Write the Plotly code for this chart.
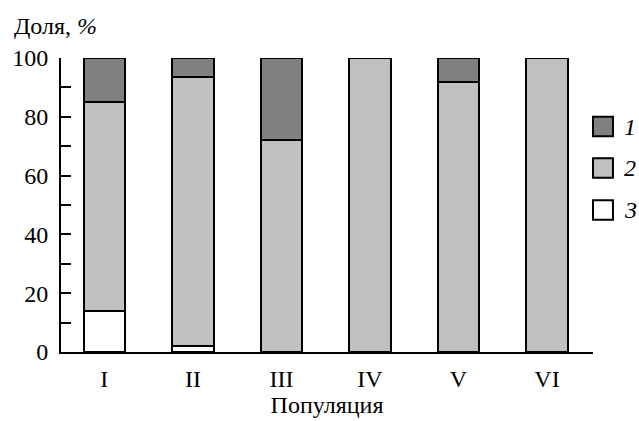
import plotly.graph_objects as go

categories = ["I", "II", "III", "IV", "V", "VI"]
series_3 = [14, 2, 0, 0, 0, 0]
series_2 = [71, 91.5, 72, 100, 92, 100]
series_1 = [15, 6.5, 28, 0, 8, 0]
series_names = ["1", "2", "3"]
colors = {"1": "#808080", "2": "#c0c0c0", "3": "#ffffff"}
y_ticks = [0, 20, 40, 60, 80, 100]

FONT = "Liberation Serif, Times New Roman, serif"
FS = 24
W_PLOT, H_PLOT = 533, 301

fig = go.Figure()
for name, vals in [("3", series_3), ("2", series_2), ("1", series_1)]:
    fig.add_trace(go.Bar(
        x=categories, y=[v if v else None for v in vals], name=name,
        marker=dict(color=colors[name], line=dict(color="black", width=2)),
        width=0.47, showlegend=False,
    ))

# manual legend (larger squares like the reference)
leg_y = [0.767, 0.626, 0.483]
for name, yy in zip(series_names, leg_y):
    fig.add_shape(type="rect", xref="paper", yref="paper",
                  x0=1.0, x1=1.0 + 20 / W_PLOT, y0=yy - 10 / H_PLOT, y1=yy + 10 / H_PLOT,
                  fillcolor=colors[name], line=dict(color="black", width=2))
    fig.add_annotation(xref="paper", yref="paper", x=1.0 + 29 / W_PLOT, y=yy,
                       text="<i>" + name + "</i>", showarrow=False,
                       xanchor="left", yanchor="middle",
                       font=dict(family=FONT, size=FS, color="black"))

fig.add_annotation(xref="paper", yref="paper", x=-49 / W_PLOT, y=1 + 33 / H_PLOT,
                   text="Доля, <i>%</i>", showarrow=False, xanchor="left", yanchor="middle",
                   font=dict(family=FONT, size=FS, color="black"))

fig.update_layout(
    width=639, height=421,
    margin=dict(l=60, r=46, t=58, b=62),
    barmode="stack",
    plot_bgcolor="white", paper_bgcolor="white",
    font=dict(family=FONT, size=FS, color="black"),
    xaxis=dict(
        range=[-0.49, 5.52], showline=True, linecolor="black", linewidth=2,
        ticks="", showgrid=False, zeroline=False, ticklabelstandoff=4,
        title=dict(text="Популяция", standoff=0, font=dict(size=FS)),
    ),
    yaxis=dict(
        range=[0, 100], tickvals=y_ticks, showline=True, linecolor="black", linewidth=2,
        ticks="inside", ticklen=10, tickwidth=2, tickcolor="black",
        minor=dict(dtick=10, ticks="inside", ticklen=10, tickwidth=2, tickcolor="black", showgrid=False),
        showgrid=False, zeroline=False, ticklabelstandoff=6,
    ),
)

fig.write_html("out.html", config={"displayModeBar": False, "staticPlot": True})
with open("out.html", encoding="utf-8") as f:
    html = f.read()
html = html.replace("<body>", '<body style="margin:0;padding:0;overflow:hidden">', 1)
with open("out.html", "w", encoding="utf-8") as f:
    f.write(html)
